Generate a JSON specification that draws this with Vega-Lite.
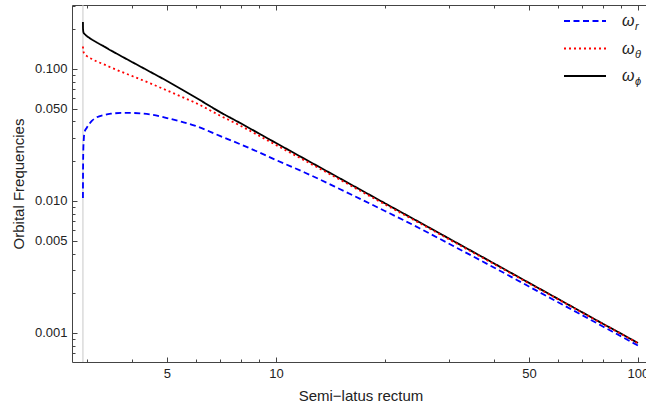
{
  "$schema": "https://vega.github.io/schema/vega-lite/v6.json",
  "width": 577,
  "height": 357,
  "autosize": "none",
  "padding": {"left": 72, "top": 5, "right": 0, "bottom": 46},
  "background": "white",
  "config": {
    "view": {"stroke": "#444444", "strokeWidth": 1},
    "font": "Liberation Sans",
    "axis": {
      "domain": false,
      "grid": false,
      "tickColor": "#444444",
      "tickWidth": 1,
      "labelFont": "Liberation Sans",
      "labelFontSize": 13,
      "labelColor": "#222222",
      "titleFont": "Liberation Sans",
      "titleFontSize": 15,
      "titleFontWeight": "normal",
      "titleColor": "#222222"
    }
  },
  "datasets": {
    "marker": [{"p": 2.93}],
    "curves": [
      {"p": 2.93, "w": 0.2270, "s": "ωϕ", "sub": "ϕ"},
      {"p": 2.931, "w": 0.2045, "s": "ωϕ", "sub": "ϕ"},
      {"p": 2.935, "w": 0.1940, "s": "ωϕ", "sub": "ϕ"},
      {"p": 2.94, "w": 0.1890, "s": "ωϕ", "sub": "ϕ"},
      {"p": 2.96, "w": 0.1841, "s": "ωϕ", "sub": "ϕ"},
      {"p": 3.0, "w": 0.1778, "s": "ωϕ", "sub": "ϕ"},
      {"p": 3.1, "w": 0.1673, "s": "ωϕ", "sub": "ϕ"},
      {"p": 3.2, "w": 0.1588, "s": "ωϕ", "sub": "ϕ"},
      {"p": 3.35, "w": 0.1481, "s": "ωϕ", "sub": "ϕ"},
      {"p": 3.5, "w": 0.1381, "s": "ωϕ", "sub": "ϕ"},
      {"p": 3.75, "w": 0.1244, "s": "ωϕ", "sub": "ϕ"},
      {"p": 4, "w": 0.1130, "s": "ωϕ", "sub": "ϕ"},
      {"p": 4.5, "w": 0.0949, "s": "ωϕ", "sub": "ϕ"},
      {"p": 5, "w": 0.0811, "s": "ωϕ", "sub": "ϕ"},
      {"p": 5.5, "w": 0.0699, "s": "ωϕ", "sub": "ϕ"},
      {"p": 6, "w": 0.0608, "s": "ωϕ", "sub": "ϕ"},
      {"p": 7, "w": 0.0472, "s": "ωϕ", "sub": "ϕ"},
      {"p": 8, "w": 0.0387, "s": "ωϕ", "sub": "ϕ"},
      {"p": 9, "w": 0.0323, "s": "ωϕ", "sub": "ϕ"},
      {"p": 10, "w": 0.0275, "s": "ωϕ", "sub": "ϕ"},
      {"p": 12, "w": 0.02084, "s": "ωϕ", "sub": "ϕ"},
      {"p": 15, "w": 0.01486, "s": "ωϕ", "sub": "ϕ"},
      {"p": 20, "w": 0.00961, "s": "ωϕ", "sub": "ϕ"},
      {"p": 25, "w": 0.00687, "s": "ωϕ", "sub": "ϕ"},
      {"p": 30, "w": 0.00521, "s": "ωϕ", "sub": "ϕ"},
      {"p": 40, "w": 0.00337, "s": "ωϕ", "sub": "ϕ"},
      {"p": 50, "w": 0.00240, "s": "ωϕ", "sub": "ϕ"},
      {"p": 60, "w": 0.00182, "s": "ωϕ", "sub": "ϕ"},
      {"p": 70, "w": 0.00144, "s": "ωϕ", "sub": "ϕ"},
      {"p": 80, "w": 0.001176, "s": "ωϕ", "sub": "ϕ"},
      {"p": 90, "w": 0.000986, "s": "ωϕ", "sub": "ϕ"},
      {"p": 100, "w": 0.000840, "s": "ωϕ", "sub": "ϕ"},

      {"p": 2.93, "w": 0.1481, "s": "ωθ", "sub": "θ"},
      {"p": 2.935, "w": 0.1369, "s": "ωθ", "sub": "θ"},
      {"p": 2.96, "w": 0.1299, "s": "ωθ", "sub": "θ"},
      {"p": 3.0, "w": 0.1255, "s": "ωθ", "sub": "θ"},
      {"p": 3.1, "w": 0.1191, "s": "ωθ", "sub": "θ"},
      {"p": 3.2, "w": 0.1140, "s": "ωθ", "sub": "θ"},
      {"p": 3.35, "w": 0.1082, "s": "ωθ", "sub": "θ"},
      {"p": 3.5, "w": 0.1026, "s": "ωθ", "sub": "θ"},
      {"p": 3.75, "w": 0.0949, "s": "ωθ", "sub": "θ"},
      {"p": 4, "w": 0.0885, "s": "ωθ", "sub": "θ"},
      {"p": 4.5, "w": 0.0777, "s": "ωθ", "sub": "θ"},
      {"p": 5, "w": 0.0687, "s": "ωθ", "sub": "θ"},
      {"p": 5.5, "w": 0.0614, "s": "ωθ", "sub": "θ"},
      {"p": 6, "w": 0.0553, "s": "ωθ", "sub": "θ"},
      {"p": 7, "w": 0.0444, "s": "ωθ", "sub": "θ"},
      {"p": 8, "w": 0.0370, "s": "ωθ", "sub": "θ"},
      {"p": 9, "w": 0.0311, "s": "ωθ", "sub": "θ"},
      {"p": 10, "w": 0.02655, "s": "ωθ", "sub": "θ"},
      {"p": 12, "w": 0.02027, "s": "ωθ", "sub": "θ"},
      {"p": 15, "w": 0.01453, "s": "ωθ", "sub": "θ"},
      {"p": 20, "w": 0.00942, "s": "ωθ", "sub": "θ"},
      {"p": 25, "w": 0.00677, "s": "ωθ", "sub": "θ"},
      {"p": 30, "w": 0.00514, "s": "ωθ", "sub": "θ"},
      {"p": 40, "w": 0.00333, "s": "ωθ", "sub": "θ"},
      {"p": 50, "w": 0.002375, "s": "ωθ", "sub": "θ"},
      {"p": 60, "w": 0.001806, "s": "ωθ", "sub": "θ"},
      {"p": 70, "w": 0.00143, "s": "ωθ", "sub": "θ"},
      {"p": 80, "w": 0.001168, "s": "ωθ", "sub": "θ"},
      {"p": 90, "w": 0.000981, "s": "ωθ", "sub": "θ"},
      {"p": 100, "w": 0.000836, "s": "ωθ", "sub": "θ"},

      {"p": 2.93, "w": 0.01054, "s": "ωr", "sub": "r"},
      {"p": 2.931, "w": 0.01442, "s": "ωr", "sub": "r"},
      {"p": 2.933, "w": 0.0194, "s": "ωr", "sub": "r"},
      {"p": 2.937, "w": 0.02434, "s": "ωr", "sub": "r"},
      {"p": 2.945, "w": 0.02898, "s": "ωr", "sub": "r"},
      {"p": 2.96, "w": 0.03332, "s": "ωr", "sub": "r"},
      {"p": 3.0, "w": 0.0357, "s": "ωr", "sub": "r"},
      {"p": 3.1, "w": 0.0404, "s": "ωr", "sub": "r"},
      {"p": 3.2, "w": 0.0430, "s": "ωr", "sub": "r"},
      {"p": 3.35, "w": 0.0448, "s": "ωr", "sub": "r"},
      {"p": 3.5, "w": 0.0458, "s": "ωr", "sub": "r"},
      {"p": 3.75, "w": 0.0464, "s": "ωr", "sub": "r"},
      {"p": 4, "w": 0.0464, "s": "ωr", "sub": "r"},
      {"p": 4.5, "w": 0.0452, "s": "ωr", "sub": "r"},
      {"p": 5, "w": 0.0425, "s": "ωr", "sub": "r"},
      {"p": 5.5, "w": 0.0397, "s": "ωr", "sub": "r"},
      {"p": 6, "w": 0.0370, "s": "ωr", "sub": "r"},
      {"p": 7, "w": 0.0311, "s": "ωr", "sub": "r"},
      {"p": 8, "w": 0.02679, "s": "ωr", "sub": "r"},
      {"p": 9, "w": 0.02330, "s": "ωr", "sub": "r"},
      {"p": 10, "w": 0.02044, "s": "ωr", "sub": "r"},
      {"p": 12, "w": 0.01644, "s": "ωr", "sub": "r"},
      {"p": 15, "w": 0.01233, "s": "ωr", "sub": "r"},
      {"p": 20, "w": 0.00840, "s": "ωr", "sub": "r"},
      {"p": 25, "w": 0.00619, "s": "ωr", "sub": "r"},
      {"p": 30, "w": 0.00476, "s": "ωr", "sub": "r"},
      {"p": 40, "w": 0.003134, "s": "ωr", "sub": "r"},
      {"p": 50, "w": 0.00225, "s": "ωr", "sub": "r"},
      {"p": 60, "w": 0.001717, "s": "ωr", "sub": "r"},
      {"p": 70, "w": 0.001369, "s": "ωr", "sub": "r"},
      {"p": 80, "w": 0.00112, "s": "ωr", "sub": "r"},
      {"p": 90, "w": 0.000941, "s": "ωr", "sub": "r"},
      {"p": 100, "w": 0.000804, "s": "ωr", "sub": "r"}
    ]
  },
  "layer": [
    {
      "data": {"name": "marker"},
      "mark": {"type": "rule", "color": "#c8c8c8", "strokeWidth": 1},
      "encoding": {
        "x": {
          "field": "p",
          "type": "quantitative",
          "scale": {"type": "log", "domain": [2.733, 107.3], "nice": false, "zero": false},
          "axis": {
            "orient": "top",
            "values": [3, 4, 5, 6, 7, 8, 9, 10, 20, 30, 40, 50, 60, 70, 80, 90, 100],
            "labels": false,
            "title": null,
            "tickSize": {"condition": {"test": "indexof([5,10,50,100], datum.value) >= 0", "value": -5}, "value": -3}
          }
        }
      }
    },
    {
      "data": {"name": "curves"},
      "mark": {"type": "line", "strokeWidth": 1.8, "interpolate": "monotone"},
      "encoding": {
        "x": {
          "field": "p",
          "type": "quantitative",
          "scale": {"type": "log", "domain": [2.733, 107.3], "nice": false, "zero": false},
          "axis": {
            "orient": "bottom",
            "values": [3, 4, 5, 6, 7, 8, 9, 10, 20, 30, 40, 50, 60, 70, 80, 90, 100],
            "labelExpr": "indexof([5,10,50,100], datum.value) >= 0 ? datum.label : ''",
            "tickSize": {"condition": {"test": "indexof([5,10,50,100], datum.value) >= 0", "value": -5}, "value": -3},
            "labelPadding": 10,
            "title": "Semi−latus rectum",
            "titlePadding": 8
          }
        },
        "y": {
          "field": "w",
          "type": "quantitative",
          "scale": {"type": "log", "domain": [0.000603, 0.305], "nice": false, "zero": false},
          "axis": {
            "orient": "left",
            "values": [0.0007, 0.0008, 0.0009, 0.001, 0.002, 0.003, 0.004, 0.005, 0.006, 0.007, 0.008, 0.009, 0.01, 0.02, 0.03, 0.04, 0.05, 0.06, 0.07, 0.08, 0.09, 0.1, 0.2, 0.3],
            "format": ".3f",
            "labelExpr": "indexof([0.001,0.005,0.01,0.05,0.1], datum.value) >= 0 ? datum.label : ''",
            "tickSize": {"condition": {"test": "indexof([0.001,0.005,0.01,0.05,0.1], datum.value) >= 0", "value": -5}, "value": -3},
            "labelPadding": 10,
            "title": "Orbital Frequencies",
            "titlePadding": 8
          }
        },
        "color": {
          "field": "s",
          "type": "nominal",
          "scale": {"domain": ["ωr", "ωθ", "ωϕ"], "range": ["#0000ff", "#ff0000", "#000000"]},
          "legend": {
            "title": null,
            "orient": "none",
            "legendX": 491,
            "legendY": 8,
            "padding": 0,
            "symbolType": "stroke",
            "symbolSize": 1764,
            "symbolStrokeWidth": 1.8,
            "clipHeight": 16,
            "rowPadding": 11.5,
            "labelOffset": 15,
            "labelExpr": "'ω'",
            "labelFont": "Liberation Sans",
            "labelFontSize": 16,
            "labelFontStyle": "italic",
            "labelColor": "#222222"
          }
        },
        "strokeDash": {
          "field": "s",
          "type": "nominal",
          "scale": {"domain": ["ωr", "ωθ", "ωϕ"], "range": [[6, 3.5], [2, 3], [1, 0]]}
        },
        "opacity": {
          "field": "sub",
          "type": "nominal",
          "scale": {"domain": ["r", "θ", "ϕ"], "range": [1, 1]},
          "legend": {
            "title": null,
            "orient": "none",
            "legendX": 552,
            "legendY": 14,
            "padding": 0,
            "symbolSize": 0,
            "symbolStrokeWidth": 0,
            "symbolOpacity": 0,
            "clipHeight": 16,
            "rowPadding": 11.5,
            "labelOffset": 0,
            "labelFont": "Liberation Sans",
            "labelFontSize": 11,
            "labelFontStyle": "italic",
            "labelColor": "#222222"
          }
        }
      }
    }
  ],
  "resolve": {"axis": {"x": "independent"}}
}
